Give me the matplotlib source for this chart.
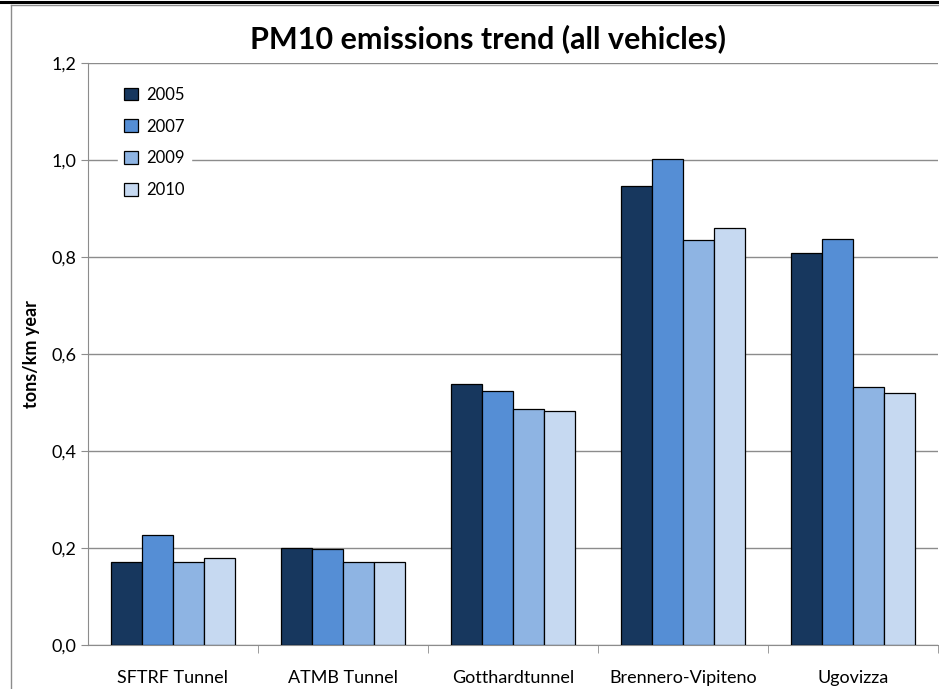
#!/usr/bin/env python3
"""
PM10 emissions trend (all vehicles) - grouped bar chart.
"""

import numpy as np
import matplotlib
matplotlib.use('Agg')
import matplotlib.pyplot as plt
from matplotlib.lines import Line2D
from matplotlib.ticker import FuncFormatter, MultipleLocator

# Data
sites = ['SFTRF Tunnel', 'ATMB Tunnel', 'Gotthardtunnel', 'Brennero-Vipiteno', 'Ugovizza']
years = ['2005', '2007', '2009', '2010']
pm10_2005 = [0.171, 0.200, 0.538, 0.946, 0.808]
pm10_2007 = [0.226, 0.198, 0.524, 1.002, 0.837]
pm10_2009 = [0.171, 0.171, 0.487, 0.835, 0.532]
pm10_2010 = [0.180, 0.171, 0.483, 0.860, 0.520]
colors = ['#17375E', '#558ED5', '#8EB4E3', '#C6D9F1']

plt.rcParams['font.family'] = ['Lato', 'DejaVu Sans']

W, H = 939, 689
fig = plt.figure(figsize=(W / 100, H / 100), dpi=100)
ax = fig.add_axes([0.0937, 0.0639, 0.905, 0.8447])

series = [pm10_2005, pm10_2007, pm10_2009, pm10_2010]
x = np.arange(len(sites))
bar_w = 0.182
for i, (vals, year, col) in enumerate(zip(series, years, colors)):
    offs = (i - 1.5) * bar_w
    ax.bar(x + offs, vals, width=bar_w, color=col, edgecolor='black',
           linewidth=0.9, label=year, zorder=3)

ax.set_xlim(-0.5, len(sites) - 0.5)
ax.set_ylim(0, 1.2)
ax.yaxis.set_major_locator(MultipleLocator(0.2))
ax.yaxis.set_major_formatter(FuncFormatter(lambda v, p: f'{v:.1f}'.replace('.', ',')))
ax.grid(axis='y', color='#8c8c8c', linewidth=1.0, zorder=0)

# category labels centred, tick marks between groups
ax.set_xticks(x)
ax.set_xticklabels(sites, fontsize=13)
ax.tick_params(axis='x', length=0, pad=18)
ax.set_xticks(np.arange(0.5, len(sites), 1.0), minor=True)
ax.tick_params(axis='x', which='minor', length=6, color='#8c8c8c')
ax.tick_params(axis='y', labelsize=13, length=5, color='#8c8c8c')

for side in ['top', 'right']:
    ax.spines[side].set_visible(False)
for side in ['left', 'bottom']:
    ax.spines[side].set_color('#8c8c8c')

ax.set_ylabel('tons/km year', fontsize=13, fontweight='bold', labelpad=8)
fig.text(0.52, 0.944, 'PM10 emissions trend (all vehicles)', ha='center',
         va='center', fontsize=22, fontweight='bold')

leg = ax.legend(loc='upper left', bbox_to_anchor=(0.025, 0.985), frameon=True,
                fontsize=12, handlelength=0.8, handleheight=0.8,
                labelspacing=0.95, handletextpad=0.5, borderpad=0.4)
leg.get_frame().set_facecolor('white')
leg.get_frame().set_edgecolor('white')
leg.get_frame().set_alpha(1.0)
leg.set_zorder(5)

# frame around the picture: black rule on top, grey chart border left/top
fig.add_artist(Line2D([0, 1], [1 - 1.5 / H, 1 - 1.5 / H], transform=fig.transFigure,
                      color='black', linewidth=2.2))
fig.add_artist(Line2D([11 / W, 1], [1 - 4.5 / H, 1 - 4.5 / H], transform=fig.transFigure,
                      color='#8c8c8c', linewidth=1.0))
fig.add_artist(Line2D([11 / W, 11 / W], [0, 1 - 4.5 / H], transform=fig.transFigure,
                      color='#8c8c8c', linewidth=1.0))

fig.savefig('out.png', dpi=100)
